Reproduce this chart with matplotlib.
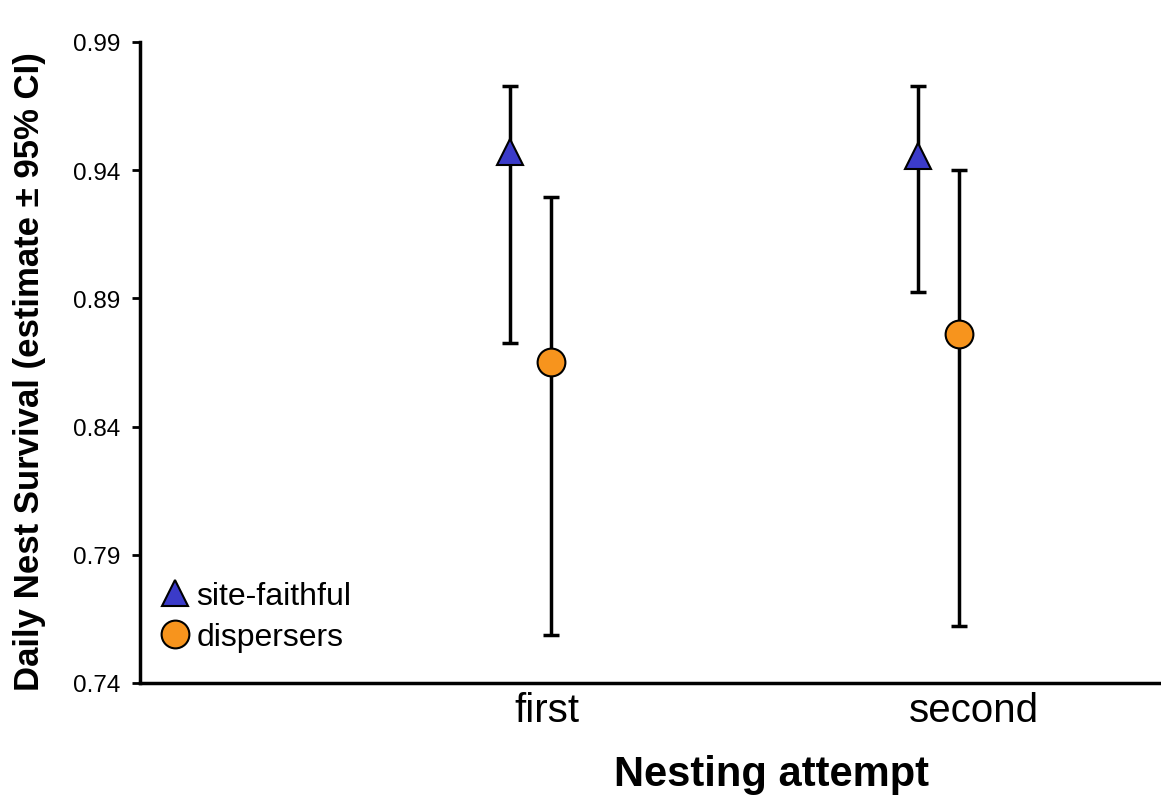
import numpy as np
import matplotlib.pyplot as plt

plt.rcParams['font.family'] = ['Liberation Sans', 'DejaVu Sans']

# Daily nest survival estimates with 95% CI bounds
attempts = ['first', 'second']
faithful_est = [0.947, 0.9455]
faithful_lo = [0.8726, 0.8925]
faithful_hi = [0.9728, 0.9728]
disp_est = [0.8652, 0.8761]
disp_lo = [0.7587, 0.7622]
disp_hi = [0.9295, 0.9400]

x = np.array([1.0, 2.0])
offset = 0.1
label_shift = np.array([-0.01, 0.037])

fig = plt.figure(figsize=(11.61, 8.03), dpi=100)
ax = fig.add_axes([140 / 1161, 1 - 684 / 803, 1020 / 1161, 641 / 803])

def draw(xs, est, lo, hi, marker, color, size, label):
    est = np.array(est)
    yerr = [est - np.array(lo), np.array(hi) - est]
    ax.errorbar(xs, est, yerr=yerr, fmt='none', ecolor='black', elinewidth=2.5,
                capsize=6, capthick=2.5, zorder=2)
    ax.plot(xs, est, linestyle='none', marker=marker, markersize=size,
            markerfacecolor=color, markeredgecolor='black', markeredgewidth=1.5,
            zorder=3, label=label)

draw(x - offset, faithful_est, faithful_lo, faithful_hi, '^', '#3B3BC9', 19, 'site-faithful')
draw(x, disp_est, disp_lo, disp_hi, 'o', '#F7941D', 20, 'dispersers')

ax.set_xlim(-0.008, 2.492)
ax.set_ylim(0.74, 0.99)
yt = np.arange(0.74, 0.991, 0.05)
ax.set_yticks(yt)
ax.set_yticklabels(['%.2f' % v for v in yt], fontsize=17.5)
ax.set_xticks(x + label_shift)
ax.set_xticklabels(attempts, fontsize=29)
ax.tick_params(axis='x', length=0, pad=6)
ax.tick_params(axis='y', length=6, width=2, pad=8)

for side in ['top', 'right']:
    ax.spines[side].set_visible(False)
for side in ['left', 'bottom']:
    ax.spines[side].set_linewidth(2.5)

ax.set_xlabel('Nesting attempt', fontsize=30, fontweight='bold', va='center')
ax.xaxis.set_label_coords(0.619, -0.142)
ax.set_ylabel('Daily Nest Survival (estimate ± 95% CI)', fontsize=25,
              fontweight='bold', va='center')
ax.yaxis.set_label_coords(-0.108, 0.488)

ax.legend(loc='lower left', bbox_to_anchor=(-0.006, 0.013), frameon=False,
          fontsize=23, handletextpad=0.05, labelspacing=0.35, borderaxespad=0.3,
          handlelength=1.2, markerscale=1.0)

fig.savefig('out.png', dpi=100)
